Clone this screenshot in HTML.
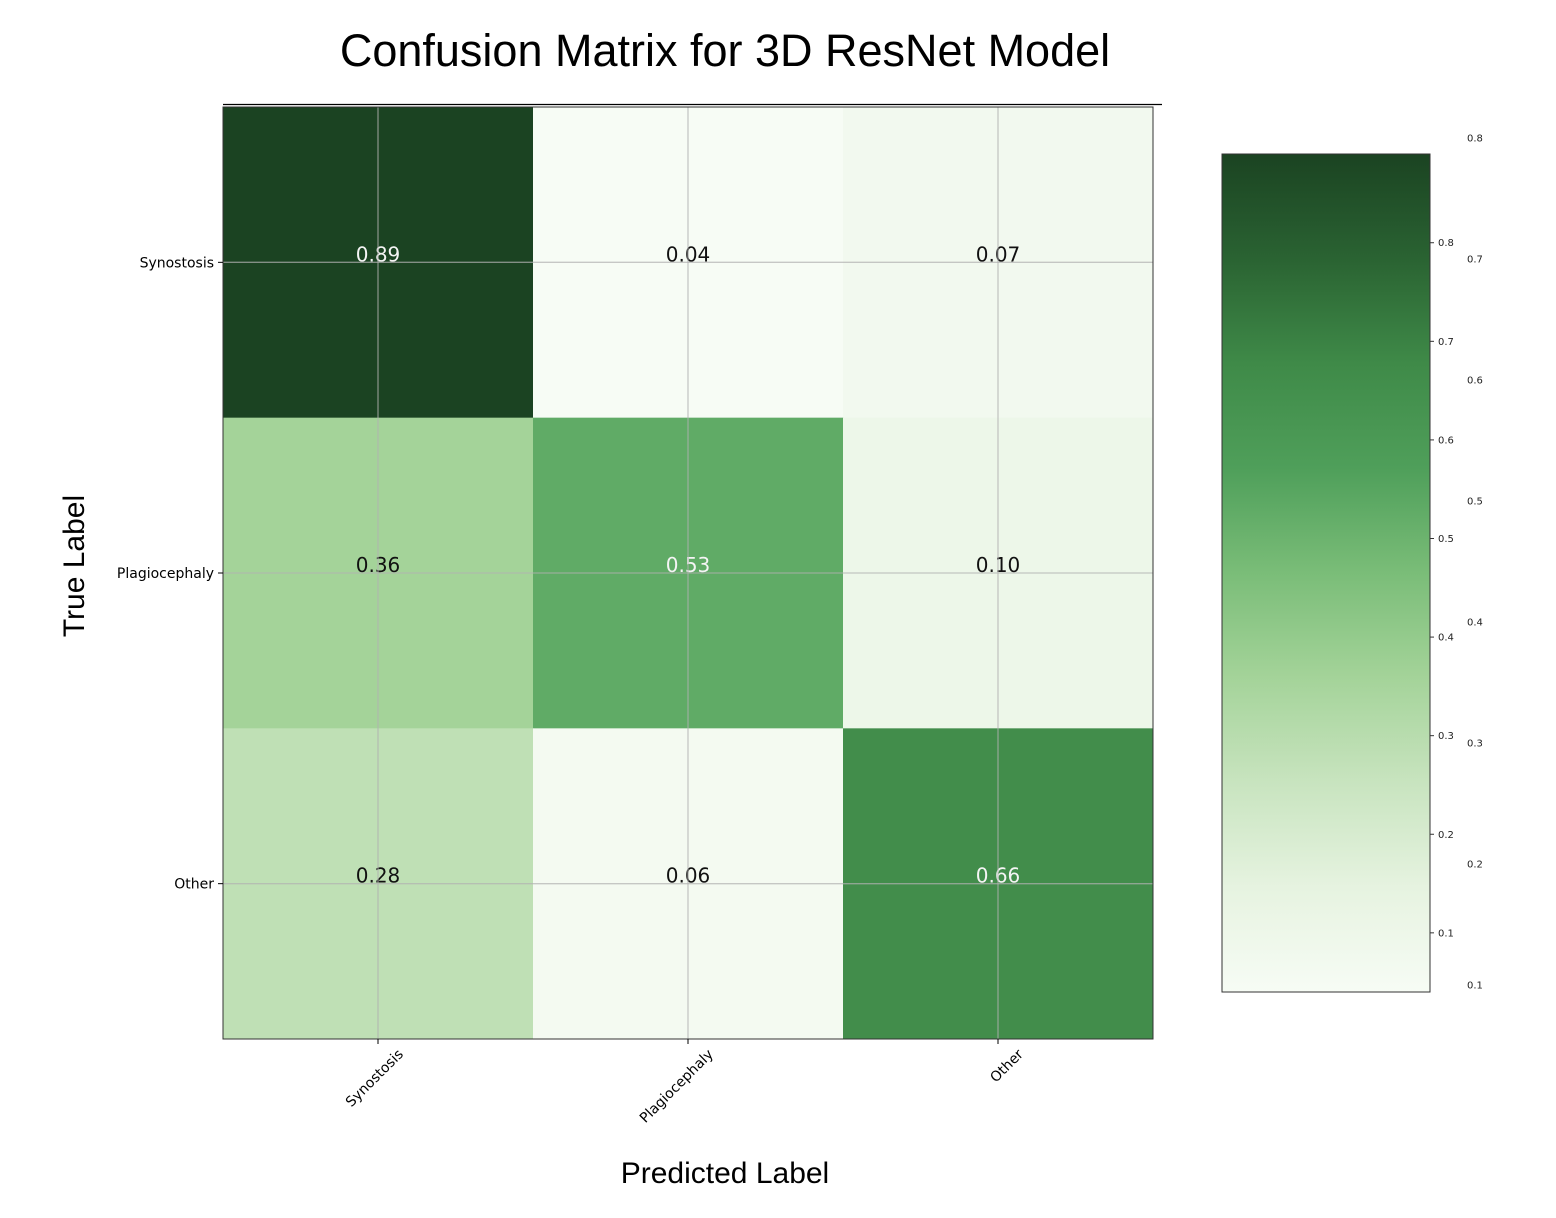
<!DOCTYPE html>
<html><head><meta charset="utf-8"><style>
body{margin:0;background:#fff;}
svg{display:block;}
</style></head><body>
<svg id="chart" width="1556" height="1218" xmlns="http://www.w3.org/2000/svg">
<defs><linearGradient id="cbgrad" x1="0" y1="1" x2="0" y2="0"></linearGradient></defs>
<text x="725" y="66" text-anchor="middle" font-family="Liberation Sans, sans-serif" font-size="45" fill="#000">Confusion Matrix for 3D ResNet Model</text>
<line x1="223" y1="104.5" x2="1162" y2="104.5" stroke="#000" stroke-width="1.2"/>
<g id="cells"></g>
<g id="grid"></g>
<rect x="223" y="107" width="930" height="932" fill="none" stroke="#333" stroke-width="1"/>
<g id="ticks"></g>
<text x="725" y="1183" text-anchor="middle" font-family="Liberation Sans, sans-serif" font-size="30">Predicted Label</text>
<text transform="translate(84,566) rotate(-90)" text-anchor="middle" font-family="Liberation Sans, sans-serif" font-size="30">True Label</text>
<g id="colorbar"></g>
</svg>
<script>
const categories = ["Synostosis","Plagiocephaly","Other"];
const row0 = [0.89,0.04,0.07];
const row1 = [0.36,0.53,0.10];
const row2 = [0.28,0.06,0.66];
const values = [row0,row1,row2];
const cbInnerTicks = [0.1,0.2,0.3,0.4,0.5,0.6,0.7,0.8];
const cbOuterTicks = [0.1,0.2,0.3,0.4,0.5,0.6,0.7,0.8];

const NS="http://www.w3.org/2000/svg";
function mk(tag,attrs,parent){const e=document.createElementNS(NS,tag);for(const k in attrs)e.setAttribute(k,attrs[k]);parent.appendChild(e);return e;}
const stops=["#f7fcf5","#e6f3e0","#c8e4bf","#a4d399","#7abd78","#4f9f5a","#3f8a48","#2a6332","#1b4322"].map(h=>[parseInt(h.slice(1,3),16),parseInt(h.slice(3,5),16),parseInt(h.slice(5,7),16)]);
const all=values.flat();const vmin=Math.min(...all),vmax=Math.max(...all);
function cmap(v){let t=(v-vmin)/(vmax-vmin);t=Math.max(0,Math.min(1,t));const p=t*8,i=Math.min(7,Math.floor(p)),f=p-i;
 const c=stops[i].map((a,k)=>a+(stops[i+1][k]-a)*f);
 return `rgb(${c.map(Math.round).join(",")})`;}
const X0=223,Y0=107,W=930,H=932,n=categories.length,cw=W/n,ch=H/n;
const xs=j=>X0+cw*(j+0.5), ys=i=>Y0+ch*(i+0.5);
const cells=document.getElementById("cells"),grid=document.getElementById("grid"),ticks=document.getElementById("ticks");
values.forEach((r,i)=>r.forEach((v,j)=>{
 const rc=mk("rect",{x:X0+cw*j,y:Y0+ch*i,width:cw+0.5,height:ch+0.5,fill:cmap(v)},cells);
 
 
}));
for(let k=0;k<n;k++){
 const gl=mk("line",{x1:xs(k),y1:Y0,x2:xs(k),y2:Y0+H,stroke:"#b0b0b0","stroke-opacity":0.7,"stroke-width":1.3},grid);
 
 const gh=mk("line",{x1:X0,y1:ys(k),x2:X0+W,y2:ys(k),stroke:"#b0b0b0","stroke-opacity":0.7,"stroke-width":1.3},grid);
 
 mk("line",{x1:X0-5,y1:ys(k),x2:X0,y2:ys(k),stroke:"#000"},ticks);
 const yl=mk("text",{x:X0-9,y:ys(k)+5,"text-anchor":"end","font-family":"DejaVu Sans, sans-serif","font-size":14},ticks);
 yl.textContent=categories[k];
 mk("line",{x1:xs(k),y1:Y0+H,x2:xs(k),y2:Y0+H+5,stroke:"#000"},ticks);
 const xl=mk("text",{transform:`translate(${xs(k)+26},${Y0+H+16}) rotate(-45)`,"text-anchor":"end","font-family":"DejaVu Sans, sans-serif","font-size":14},ticks);
 xl.textContent=categories[k];
}
values.forEach((r,i)=>r.forEach((v,j)=>{
 const t=mk("text",{x:xs(j),y:ys(i)-1,"text-anchor":"middle","font-family":"DejaVu Sans, sans-serif","font-size":20,fill:v>0.45?"#f4f4f4":"#111"},cells);
 t.textContent=v.toFixed(2);
}));
const cb=document.getElementById("colorbar");const CX=1222,CY=154,CW=208,CH=838;
const grad=document.getElementById("cbgrad");
for(let k=0;k<=24;k++){const v=vmin+(vmax-vmin)*k/24;mk("stop",{offset:(k/24),"stop-color":cmap(v)},grad);}
const cbr=mk("rect",{x:CX,y:CY,width:CW,height:CH,fill:"url(#cbgrad)",stroke:"#333","stroke-width":1},cb);

const cy=v=>CY+CH-(v-vmin)/(vmax-vmin)*CH;
cbInnerTicks.forEach(v=>{
 mk("line",{x1:CX+CW,y1:cy(v),x2:CX+CW+4,y2:cy(v),stroke:"#333"},cb);
 const t=mk("text",{x:CX+CW+8,y:cy(v)+3.5,"font-family":"DejaVu Sans, sans-serif","font-size":10,fill:"#222"},cb);
 t.textContent=v.toFixed(1);
});
const oy=v=>985-(v-0.1)/0.7*(985-138);
cbOuterTicks.forEach(v=>{
 const t=mk("text",{x:1467,y:oy(v)+3.5,"font-family":"DejaVu Sans, sans-serif","font-size":10,fill:"#222"},cb);
 t.textContent=v.toFixed(1);
});
</script>
</body></html>
